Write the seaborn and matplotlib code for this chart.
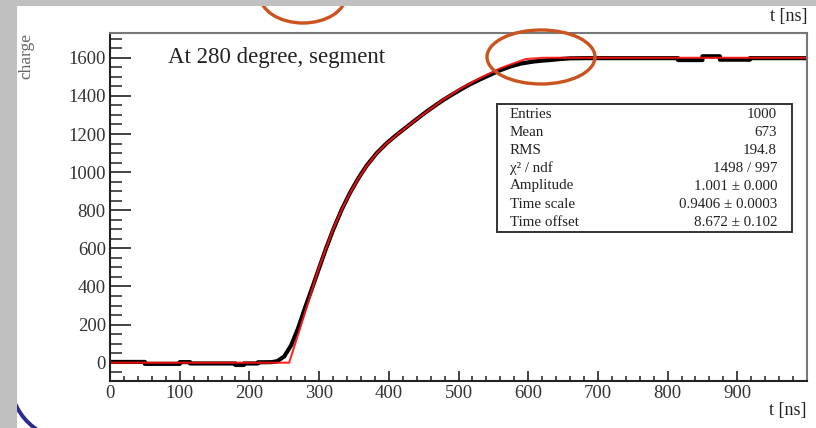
import matplotlib
matplotlib.use("Agg")
import pandas as pd
import seaborn as sns
import matplotlib.pyplot as plt
from matplotlib.patches import Ellipse, Rectangle, Arc
from matplotlib.ticker import FixedLocator, MultipleLocator

W, H = 816, 428

# measured pulse integral (black histogram)
t_data = [0, 50, 50, 100, 100, 115, 115, 180, 180, 192, 192, 212, 212, 232,
          240, 250, 260, 270, 280, 290, 299, 310, 320, 332, 344, 356, 368, 382,
          397, 412, 426, 440, 454, 466, 478, 490, 502, 515, 530, 545, 560, 575,
          590, 607, 620, 631, 645, 660, 680, 815, 815, 850, 850, 875, 875, 918,
          918, 1000]
charge_data = [4, 4, -6, -6, 3, 3, -4, -4, -12, -12, -4, -4, 2, 3,
               8, 33, 92, 182, 290, 392, 486, 600, 696, 800, 889, 966, 1033, 1097,
               1152, 1198, 1238, 1278, 1317, 1348, 1378, 1405, 1431, 1458, 1485, 1510, 1535, 1555,
               1570, 1580, 1585, 1588, 1593, 1597, 1598, 1598, 1588, 1588, 1608, 1608, 1590, 1590,
               1598, 1598]

# fitted model (red)
t_fit = [0, 257, 270, 285, 299, 320, 332, 344, 356, 368, 382, 397, 412, 426,
         440, 454, 478, 502, 530, 560, 596, 622, 1000]
charge_fit = [0, 0, 150, 325, 490, 700, 800, 888, 964, 1031, 1096, 1151, 1197, 1238,
              1278, 1316, 1380, 1436, 1492, 1545, 1593, 1600, 1600]

stat_names = ["Entries", "Mean", "RMS", "χ² / ndf", "Amplitude", "Time scale", "Time offset"]
stat_values = ["1000", "673", "194.8", "1498 / 997", "1.001 ± 0.000",
               "0.9406 ± 0.0003", "8.672 ± 0.102"]

title = "At 280 degree, segment"
x_label = "t [ns]"
y_label = "charge"
x_ticks = list(range(0, 1000, 100))
y_ticks = list(range(0, 1601, 200))

sns.set_style("ticks")
plt.rcParams["font.family"] = ["Liberation Serif", "DejaVu Serif"]

fig = plt.figure(figsize=(W / 100, H / 100), dpi=100)
fig.patch.set_facecolor("#c0c0c0")


def pixel_axes(zorder):
    a = fig.add_axes([17 / W, 0, (W - 17) / W, (H - 6) / H], zorder=zorder)
    a.set_xlim(17, W)
    a.set_ylim(H, 6)
    a.axis("off")
    a.patch.set_alpha(0)
    return a


# page background, decorations outside the frame
bg = pixel_axes(0)
bg.add_patch(Rectangle((17, 6), W - 17, H - 6, facecolor="white", edgecolor="none"))
bg.add_patch(Ellipse((303, -5), 86, 56, fill=False, edgecolor="#c9541f", linewidth=2.4))
bg.add_patch(Arc((71, 379), 122, 122, theta1=115, theta2=165, edgecolor="#2b2b8f", linewidth=2.8))
bg.text(808, 17, x_label, ha="right", va="center", fontsize=13, color="#222222")

# main frame
ax = fig.add_axes([110 / W, (H - 381) / H, (807 - 110) / W, (381 - 33) / H], zorder=1)
ax.set_facecolor("white")

df_data = pd.DataFrame({"t": t_data, "charge": charge_data})
df_fit = pd.DataFrame({"t": t_fit, "charge": charge_fit})
sns.lineplot(data=df_data, x="t", y="charge", estimator=None, sort=False,
             color="black", linewidth=3.0, ax=ax)
sns.lineplot(data=df_fit, x="t", y="charge", estimator=None, sort=False,
             color="#ff1010", linewidth=1.5, alpha=0.9, ax=ax)

ax.set_xlim(0, 1000)
ax.set_ylim(-96, 1730)
ax.xaxis.set_major_locator(FixedLocator(x_ticks))
ax.xaxis.set_minor_locator(MultipleLocator(20))
ax.yaxis.set_major_locator(FixedLocator(y_ticks))
ax.yaxis.set_minor_locator(MultipleLocator(50))
ax.tick_params(axis="both", which="both", direction="in", colors="#222222",
               labelsize=13.5, labelcolor="#333333")
ax.tick_params(axis="y", which="major", length=15, width=1.2, pad=3)
ax.tick_params(axis="y", which="minor", length=8.5, width=1.1)
ax.tick_params(axis="x", which="major", length=7.5, width=1.2, pad=3)
ax.tick_params(axis="x", which="minor", length=3.8, width=1.1)

for side in ("left", "bottom"):
    ax.spines[side].set_color("#222222")
    ax.spines[side].set_linewidth(1.5)
for side in ("top", "right"):
    ax.spines[side].set_color("#777777")
    ax.spines[side].set_linewidth(1.5)

ax.set_xlabel(x_label, fontsize=13, color="#222222", ha="right")
ax.xaxis.set_label_coords(1.0, (381 - 402) / 348)
ax.set_ylabel(y_label, fontsize=12.5, color="#666666", ha="right")
ax.yaxis.set_label_coords((34 - 110) / 697, 1.0)

# annotations over the frame
fg = pixel_axes(2)
fg.text(168, 58, title, ha="left", va="center", fontsize=16.5, color="#222222")
fg.add_patch(Rectangle((497, 104), 295, 128, facecolor="white",
                       edgecolor="#333333", linewidth=1.4))
row_y = [114, 132, 150, 168, 186, 205, 223]
for y, name, val in zip(row_y, stat_names, stat_values):
    fg.text(510, y, name, ha="left", va="center", fontsize=10.8, color="#222222")
    fg.text(777, y, val, ha="right", va="center", fontsize=10.8, color="#222222")
fg.add_patch(Ellipse((541, 57), 108, 54, fill=False, edgecolor="#c9541f", linewidth=2.4))

fig.savefig("out.png", dpi=100, facecolor=fig.get_facecolor())
